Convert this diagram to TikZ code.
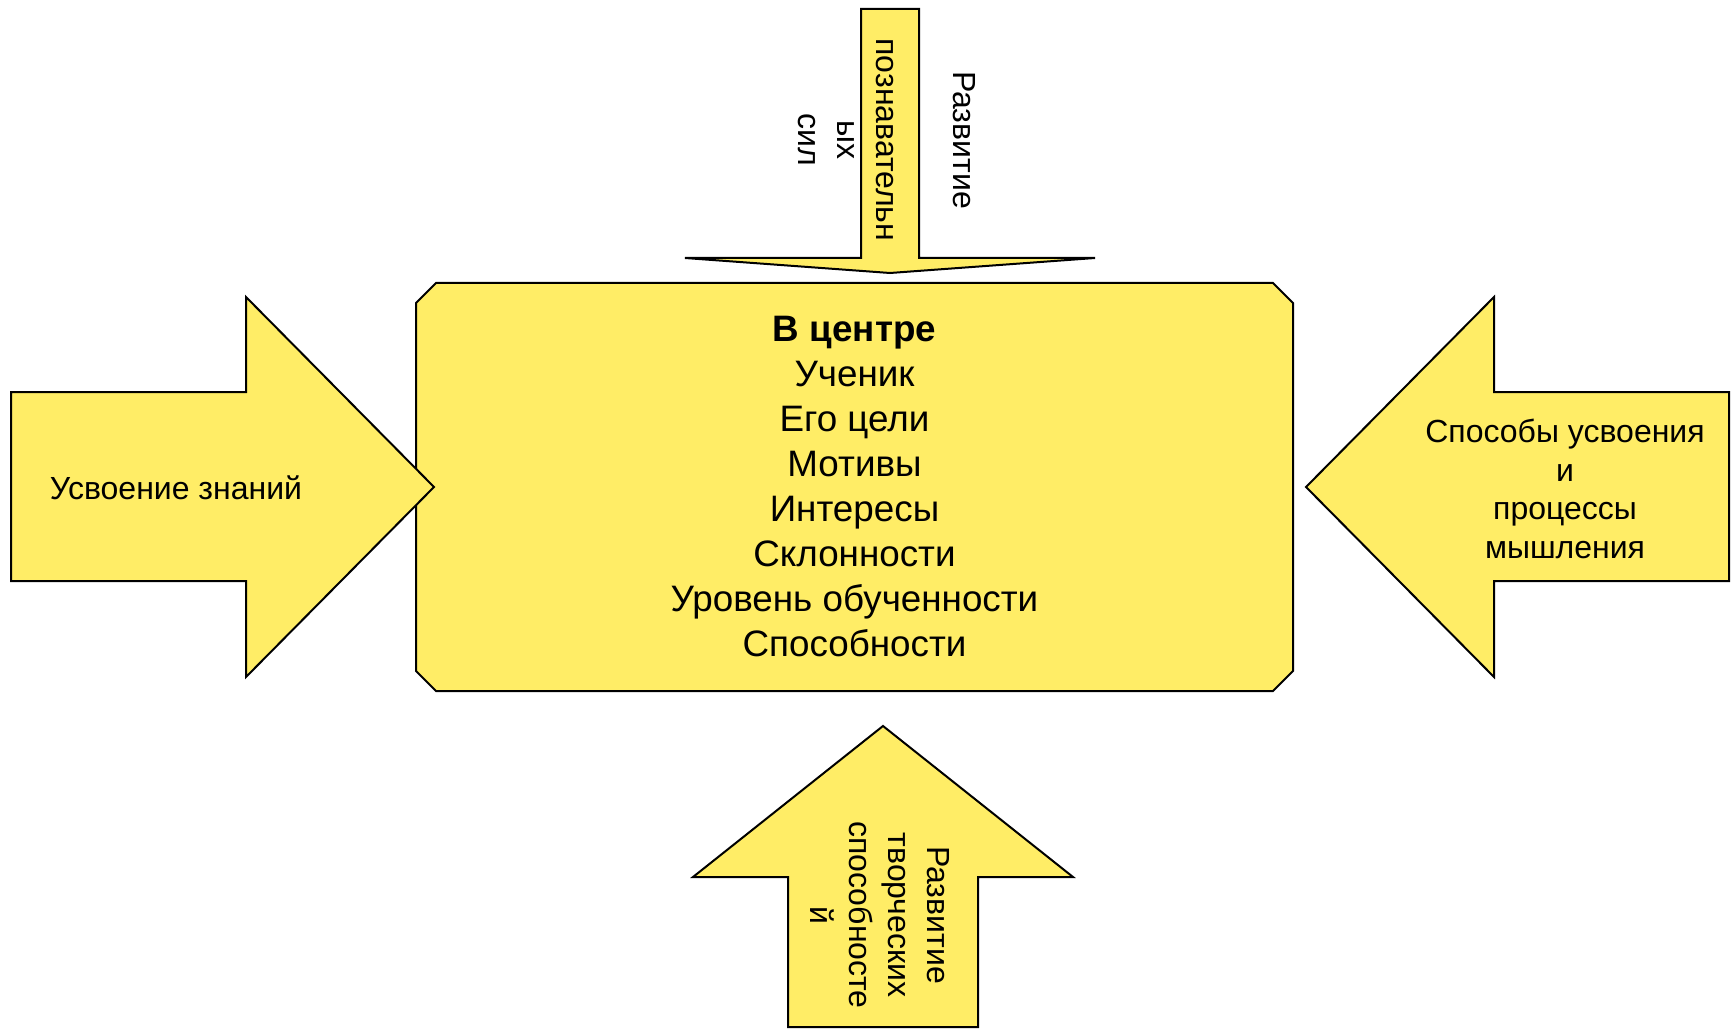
\documentclass[tikz,border=0pt]{standalone}
\usepackage{fontspec}
\setmainfont{Liberation Sans}
\usetikzlibrary{positioning}
\definecolor{pale}{RGB}{255,237,102}

\begin{document}
\begin{tikzpicture}[
  x=0.5pt, y=-0.5pt,
  blockarrow/.style={draw, line width=1pt, fill=pale},
  sidetext/.style={font=\fontsize{16}{19.4}\selectfont, align=center, inner sep=0pt},
  uptext/.style={sidetext, rotate=-90},
  maintext/.style={font=\fontsize{18.4}{22.5}\selectfont, align=center, inner sep=0pt}
]
\useasboundingbox (0,0) rectangle (1735,1032);
% Centre block
\draw[blockarrow] (436,283) -- (1273,283) -- (1293,303) -- (1293,671) -- (1273,691)
  -- (436,691) -- (416,671) -- (416,303) -- cycle;
\node[maintext] (centre) at (854.5,487) {\textbf{В центре}\\Ученик\\Его цели\\Мотивы\\Интересы\\Склонности\\Уровень обученности\\Способности};
% Left and right arrows
\draw[blockarrow] (11,392) -- (246,392) -- (246,297) -- (434,487) -- (246,677) -- (246,581) -- (11,581) -- cycle;
\draw[blockarrow] (1729,392) -- (1494,392) -- (1494,297) -- (1306,487) -- (1494,677) -- (1494,581) -- (1729,581) -- cycle;
% Top and bottom arrows
\draw[blockarrow] (861,9) -- (919,9) -- (919,258) -- (1095,258) -- (890,273) -- (685,258) -- (861,258) -- cycle;
\draw[blockarrow] (788,1027) -- (788,877) -- (693,877) -- (883,726) -- (1073,877) -- (978,877) -- (978,1027) -- cycle;
% Labels
\node[sidetext] (knowledge) at (176,488) {Усвоение знаний};
\node[sidetext] (thinking) at (1565,489) {Способы усвоения\\и\\процессы\\мышления};
\node[uptext] (cognitive) at (887,140) {Развитие\\\mbox{}\\познавательн\\ых\\сил};
\node[uptext] (creative) at (880,915) {Развитие\\творческих\\способносте\\й};
\end{tikzpicture}
\end{document}
